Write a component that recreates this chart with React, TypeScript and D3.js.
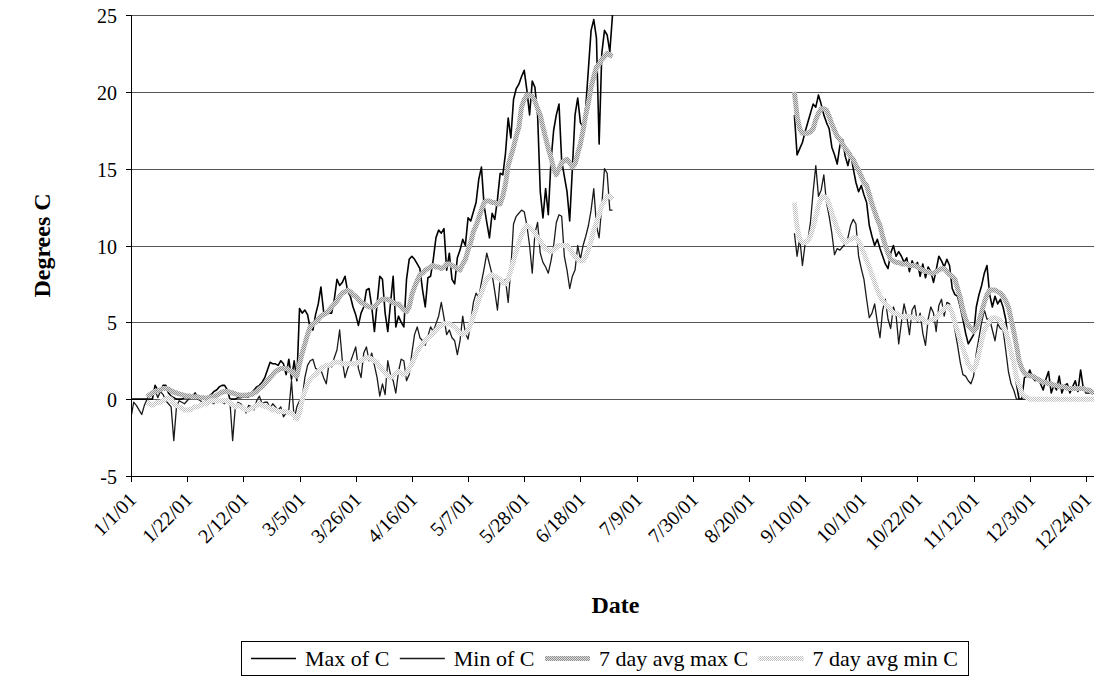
import React, { useEffect, useRef } from "react";
import * as d3 from "d3";

const parseDate = d3.utcParse("%m/%d/%y");

// axis definitions
const xTickLabels = ["1/1/01","1/22/01","2/12/01","3/5/01","3/26/01","4/16/01","5/7/01","5/28/01","6/18/01","7/9/01","7/30/01","8/20/01","9/10/01","10/1/01","10/22/01","11/12/01","12/3/01","12/24/01"];
const xDomain = ["1/1/01", "12/27/01"];
const yTicks = [-5, 0, 5, 10, 15, 20, 25];
const yDomain = [-5, 25];

// first day of each block of readings
const springStart = "1/1/01";
const springAvgStart = "1/7/01";
const autumnStart = "9/6/01";

// daily values, 1/1/01 .. 6/30/01
const maxOfC_spring = [
  0,0,0,0,0,0,0,0,0,0.9,0.6,0.5,0.9,0.9,0.4,0.2,0.1,0,0,0,0.1,0.1,0.1,0.2,0.4,0,0.1,0.1,0.05,0.2,
  0.3,0.5,0.6,0.8,0.9,0.9,0.6,0,0,0,0.1,0.1,0.15,0.15,0.15,0.4,0.6,0.8,0.9,1.1,
  1.4,1.9,2.4,2.3,2.3,2.2,2.5,2.3,1.6,2.6,1.3,2.5,1.2,5.9,5.6,5.8,5.5,4.6,4.5,5.5,
  6.2,7.3,5.7,5.5,5.6,5.6,6.5,7.8,7.4,7.6,8.0,7.0,6.7,6.0,5.5,4.8,5.6,6.0,7.1,7.2,
  6.0,4.4,6.2,8.0,7.8,5.6,4.4,6.2,8.0,4.7,5.4,5.0,4.7,7.8,9.1,9.3,9.1,8.8,8.5,7.1,
  6.0,7.9,8.0,9.1,10.5,11.0,10.8,11.1,8.4,9.5,7.8,7.5,9.2,9.7,10.4,10.0,11.8,11.6,12.2,12.8,
  14.3,15.1,12.6,11.5,10.5,12.1,11.7,13.0,14.7,14.6,16.0,18.3,17.0,19.5,20.2,20.5,21.0,21.4,20.1,18.5,
  20.7,20.3,18.5,13.5,11.8,13.7,12.0,15.5,17.5,18.5,19.2,15.5,14.5,13.5,11.6,15.0,18.5,19.6,18.0,17.7,
  19.0,21.5,24.0,24.7,23.5,16.6,22.5,24.0,23.7,22.6,25.0
];
const minOfC_spring = [
  -1.2,-0.2,-0.4,-0.7,-1.0,-0.4,0.0,0.4,0.2,0.6,0.1,0.5,0.3,-0.1,-0.3,-0.5,-2.7,-0.5,-0.1,-0.2,-0.3,-0.1,0.1,0.1,0.4,0.0,-0.1,-0.3,-0.2,0.0,
  -0.2,-0.3,0.0,-0.1,-0.2,-0.3,0.0,-0.2,-2.7,-0.5,-0.2,-0.3,-0.5,-0.9,-0.4,-0.5,-0.7,-0.1,0.2,-0.3,
  -0.2,-0.2,-0.6,-0.3,-0.5,-0.7,-0.5,-1.15,-0.9,-0.7,1.2,-1.3,-0.5,-0.1,0.1,1.4,2.2,2.5,2.6,2.0,
  1.9,1.9,1.4,1.0,2.3,2.1,2.7,3.2,4.5,2.5,1.4,2.0,2.4,2.9,3.4,2.0,1.4,3.0,3.4,2.5,
  3.0,2.2,1.4,0.2,1.0,0.3,2.5,1.6,1.2,0.4,1.8,2.6,2.5,1.2,1.6,3.0,4.2,4.7,4.0,3.8,
  3.5,4.1,4.7,4.4,4.9,5.4,6.3,5.3,4.2,4.5,4.0,3.8,2.9,3.8,5.4,4.3,3.9,5.0,6.3,6.9,
  6.6,7.6,8.5,9.5,8.8,8.1,7.0,5.8,7.8,7.5,7.8,6.3,8.5,11.4,11.9,12.1,12.3,12.2,11.3,10.0,
  8.2,10.8,11.5,9.5,8.9,8.6,8.2,9.0,10.0,11.5,12.0,11.9,9.3,8.4,7.2,8.0,8.4,10.0,9.1,10.0,
  10.6,11.3,12.3,13.7,11.3,10.5,12.6,15.0,14.7,12.3,12.3
];
// daily values, 1/7/01 .. 6/30/01
const avgMax_spring = [
  0.15,0.3,0.4,0.5,0.55,0.6,0.7,0.7,0.65,0.55,0.45,0.4,0.35,0.3,0.25,0.2,0.2,0.15,0.15,0.15,0.1,0.1,0.05,0.1,
  0.15,0.2,0.25,0.35,0.45,0.5,0.5,0.45,0.4,0.35,0.3,0.25,0.25,0.25,0.3,0.3,0.4,0.5,0.7,0.8,
  1.0,1.2,1.4,1.6,1.8,1.9,2.0,2.0,2.0,1.9,1.8,1.6,1.5,2.3,3.0,3.6,4.2,4.7,4.9,5.0,
  5.2,5.4,5.5,5.6,5.8,6.0,6.2,6.4,6.7,6.9,7.0,7.1,7.0,6.8,6.7,6.5,6.3,6.2,6.1,6.0,
  6.0,6.0,6.2,6.4,6.5,6.5,6.5,6.4,6.3,6.2,6.2,6.0,5.8,5.7,6.0,6.8,7.3,7.7,8.1,8.2,
  8.4,8.5,8.6,8.7,8.6,8.6,8.5,8.6,8.8,8.8,8.7,8.6,8.5,8.4,8.8,9.1,9.7,10.2,10.9,11.3,
  11.8,12.3,12.8,12.9,12.9,12.8,12.8,12.7,12.7,13.2,14.0,15.2,15.8,16.4,17.1,17.7,19.0,19.5,19.8,19.8,
  19.7,19.4,18.9,18.5,17.7,17.0,16.3,15.7,15.0,14.6,15.0,15.4,15.5,15.6,15.4,15.1,15.3,16.0,16.6,17.5,
  18.5,19.3,20.3,21.0,21.6,21.8,22.1,22.3,22.5,22.4,22.3
];
const avgMin_spring = [
  -0.2,-0.3,-0.4,-0.3,-0.2,-0.2,-0.1,0.0,0.1,0.0,-0.3,-0.4,-0.5,-0.6,-0.7,-0.7,-0.7,-0.6,-0.5,-0.5,-0.4,-0.3,-0.3,-0.2,
  -0.1,-0.1,-0.1,-0.1,-0.1,-0.1,-0.1,-0.2,-0.4,-0.5,-0.4,-0.5,-0.6,-0.7,-0.7,-0.6,-0.5,-0.4,-0.3,-0.4,
  -0.5,-0.5,-0.6,-0.7,-0.7,-0.8,-0.8,-0.8,-0.8,-0.9,-0.9,-1.1,-1.3,-0.9,0.0,0.5,1.0,1.3,1.5,1.6,
  1.8,2.0,2.1,2.2,2.2,2.3,2.4,2.4,2.4,2.3,2.3,2.3,2.3,2.3,2.3,2.4,2.5,2.6,2.7,2.7,
  2.6,2.5,2.4,2.1,1.9,1.7,1.5,1.4,1.5,1.7,1.8,1.7,1.6,1.7,2.0,2.3,2.7,3.1,3.4,3.6,
  3.8,4.0,4.1,4.3,4.5,4.7,4.8,4.9,4.9,4.9,4.8,4.7,4.5,4.3,4.2,4.3,4.5,4.9,5.4,5.9,
  6.5,6.9,7.4,7.8,8.0,8.1,8.0,7.9,7.8,7.6,7.5,7.8,8.4,9.0,9.6,10.2,10.7,11.1,11.3,11.2,
  11.0,10.8,10.5,10.3,10.0,9.8,9.7,9.6,9.7,9.9,10.0,10.0,10.0,10.0,9.8,9.5,9.3,9.1,9.0,9.0,
  9.3,9.7,10.3,11.0,11.5,12.0,12.6,12.9,13.2,13.2,13.0
];
// daily values, 9/6/01 .. 12/27/01
const maxOfC_autumn = [
  18.5,15.9,16.3,16.7,17.4,18.0,18.6,19.2,19.0,19.8,19.2,18.5,18.0,17.6,16.4,15.9,15.3,16.5,16.9,15.8,
  15.2,16.0,15.0,14.1,13.5,13.9,13.3,12.8,11.3,10.6,10.0,10.4,9.8,9.3,8.8,8.5,9.5,10.0,9.3,9.6,
  9.3,8.9,9.2,8.3,9.0,8.6,8.9,8.0,8.8,7.9,8.6,8.3,7.6,8.4,9.3,9.0,8.6,9.1,8.7,7.2,
  6.8,6.7,6.0,5.2,4.3,3.6,3.9,4.2,6.0,6.8,7.4,8.2,8.7,6.8,6.0,6.7,6.2,6.5,6.0,5.2,
  3.8,2.7,2.2,1.0,0,0,1.4,1.5,1.9,1.4,1.2,1.4,1.0,0.6,1.3,1.8,0.4,0.9,0.6,1.5,
  0.4,0.9,1.0,0.4,0.8,1.2,0.5,1.9,0.7,0.4,0.4,0.4,0.4
];
const minOfC_autumn = [
  10.8,9.3,10.5,8.7,10.1,10.3,11.5,13.5,15.2,13.2,13.6,14.6,12.8,11.9,10.8,9.4,9.8,9.7,9.9,10.1,
  10.5,11.3,11.7,11.4,9.3,8.5,7.8,6.5,5.3,5.6,6.2,5.0,4.0,5.8,6.5,5.2,4.6,6.0,5.5,3.6,
  5.0,6.2,5.4,4.2,5.8,6.1,5.0,5.6,4.3,3.5,5.2,6.0,5.6,4.4,6.1,6.5,5.4,6.3,6.2,5.5,
  4.5,3.5,2.4,1.6,1.5,1.2,1.0,1.5,3.0,4.0,5.0,5.8,5.2,5.2,4.5,3.8,4.9,4.6,4.5,3.2,
  1.8,1.0,0.6,0,0,0,0,0,0,0,0,0,0,0,0,0,0,0,0,0,
  0,0,0,0,0,0,0,0,0,0,0,0,0
];
const avgMax_autumn = [
  20.0,18.4,17.6,17.3,17.3,17.3,17.4,17.6,18.2,18.6,18.9,18.9,18.8,18.4,17.9,17.5,17.1,16.9,16.6,16.3,
  16.1,15.8,15.6,15.2,14.9,14.5,14.1,13.9,13.3,12.7,12.2,11.7,11.3,10.6,10.0,9.5,9.1,9.0,8.9,8.9,
  8.8,8.8,8.8,8.7,8.7,8.7,8.6,8.5,8.4,8.3,8.3,8.2,8.2,8.3,8.4,8.5,8.5,8.3,8.1,8.0,
  7.8,7.2,6.6,5.8,5.2,4.8,4.6,4.4,4.6,5.1,5.7,6.3,6.8,7.1,7.1,7.1,7.0,6.9,6.7,6.4,
  6.0,5.2,4.4,3.5,2.5,2.0,1.7,1.6,1.5,1.5,1.4,1.3,1.2,1.1,1.1,1.0,1.0,0.9,0.9,0.8,
  0.8,0.8,0.7,0.7,0.7,0.7,0.7,0.7,0.7,0.6,0.6,0.5,0.4
];
const avgMin_autumn = [
  12.8,11.2,10.4,10.2,10.2,10.3,10.6,11.2,11.9,12.6,13.1,13.2,13.1,12.7,12.1,11.6,11.1,10.7,10.4,10.2,
  10.3,10.4,10.5,10.5,10.3,9.9,9.5,9.0,8.6,8.1,7.6,7.1,6.7,6.4,6.2,6.0,5.8,5.6,5.6,5.5,
  5.4,5.3,5.4,5.4,5.3,5.3,5.2,5.3,5.2,5.0,5.0,5.1,5.2,5.3,5.5,5.7,5.9,6.0,6.0,5.6,
  5.0,4.4,3.8,3.3,2.8,2.3,2.0,1.9,2.3,3.0,3.8,4.5,4.8,5.1,5.3,5.3,5.2,5.1,4.8,4.4,
  3.8,3.1,2.4,1.4,0.9,0.4,0.2,0.1,0,0,0,0,0,0,0,0,0,0,0,0,
  0,0,0,0,0,0,0,0,0,0,0,0,0
];

const seriesNames = ["Max of C", "Min of C", "7 day avg max C", "7 day avg min C"];
const yTitle = "Degrees C";
const xTitle = "Date";

const FONT = "Liberation Serif";

export default function App() {
  const ref = useRef<SVGSVGElement>(null);

  useEffect(() => {
    const W = 1101, H = 677;
    const L = 131, R = 1094, T = 15, B = 476;
    const svg = d3.select(ref.current);
    svg.selectAll("*").remove();
    svg.attr("width", W).attr("height", H);
    const txt = (g: any) => g.append("text").attr("font-family", FONT).attr("fill", "#000");

    const x = d3.scaleUtc().domain(xDomain.map((s) => parseDate(s) as Date)).range([L, R]);
    const y = d3.scaleLinear().domain(yDomain).range([B, T]);

    const defs = svg.append("defs");
    const mkPattern = (id: string, bg: string, fg: string) => {
      const p = defs.append("pattern").attr("id", id).attr("patternUnits", "userSpaceOnUse").attr("width", 2).attr("height", 2);
      p.append("rect").attr("width", 2).attr("height", 2).attr("fill", bg);
      p.append("rect").attr("width", 1).attr("height", 1).attr("fill", fg);
      p.append("rect").attr("x", 1).attr("y", 1).attr("width", 1).attr("height", 1).attr("fill", fg);
    };
    mkPattern("pAvgMax", "#dcdcdc", "#909090");
    mkPattern("pAvgMin", "#ffffff", "#c0c0c0");
    defs.append("clipPath").attr("id", "plotClip").append("rect").attr("x", L).attr("y", T - 1).attr("width", R - L).attr("height", B - T + 2);

    // gridlines
    const grid = svg.append("g").attr("shape-rendering", "crispEdges");
    yTicks.filter((v) => v > yDomain[0]).forEach((v) => {
      grid.append("line").attr("x1", L).attr("x2", R).attr("y1", Math.round(y(v)) + 0.5).attr("y2", Math.round(y(v)) + 0.5)
        .attr("stroke", "#555").attr("stroke-width", 1);
    });

    // series
    const styles = [
      { stroke: "#000", width: 1.6 },
      { stroke: "#1a1a1a", width: 1.3 },
      { stroke: "url(#pAvgMax)", width: 5 },
      { stroke: "url(#pAvgMin)", width: 5 },
    ];
    const parts: [string, number[]][][] = [
      [[springStart, maxOfC_spring], [autumnStart, maxOfC_autumn]],
      [[springStart, minOfC_spring], [autumnStart, minOfC_autumn]],
      [[springAvgStart, avgMax_spring], [autumnStart, avgMax_autumn]],
      [[springAvgStart, avgMin_spring], [autumnStart, avgMin_autumn]],
    ];
    const line = d3.line<[Date, number]>().x((d) => x(d[0])).y((d) => y(d[1]));
    const plot = svg.append("g").attr("clip-path", "url(#plotClip)");
    parts.forEach((seriesParts, si) => {
      seriesParts.forEach(([start, vals]) => {
        const s0 = parseDate(start) as Date;
        const pts: [Date, number][] = vals.map((v, i) => [d3.utcDay.offset(s0, i), v]);
        plot.append("path").attr("d", line(pts) as string).attr("fill", "none")
          .attr("stroke", styles[si].stroke).attr("stroke-width", styles[si].width)
          .attr("stroke-linejoin", "round").attr("stroke-linecap", "butt");
      });
    });

    // axes
    const ax = svg.append("g").attr("shape-rendering", "crispEdges");
    ax.append("line").attr("x1", L + 0.5).attr("x2", L + 0.5).attr("y1", T).attr("y2", B + 1).attr("stroke", "#000");
    ax.append("line").attr("x1", L).attr("x2", R).attr("y1", B + 0.5).attr("y2", B + 0.5).attr("stroke", "#000");
    yTicks.forEach((v) => {
      const yy = Math.round(y(v)) + 0.5;
      ax.append("line").attr("x1", L - 5).attr("x2", L).attr("y1", yy).attr("y2", yy).attr("stroke", "#000");
      txt(svg).attr("x", L - 14).attr("y", yy).attr("dy", "0.35em").attr("text-anchor", "end")
        .attr("font-size", 20).text(String(v));
    });
    xTickLabels.forEach((lab) => {
      const xx = Math.round(x(parseDate(lab) as Date)) + 0.5;
      ax.append("line").attr("x1", xx).attr("x2", xx).attr("y1", B).attr("y2", B + 6).attr("stroke", "#000");
      txt(svg).attr("text-anchor", "end").attr("font-size", 20)
        .attr("transform", `translate(${xx + 6},${B + 25}) rotate(-45)`).text(lab);
    });

    // titles
    txt(svg).attr("transform", `translate(50,${(T + B) / 2}) rotate(-90)`).attr("text-anchor", "middle")
      .attr("font-weight", "bold").attr("font-size", 24).text(yTitle);
    txt(svg).attr("x", (L + R) / 2 + 3).attr("y", 613).attr("text-anchor", "middle")
      .attr("font-weight", "bold").attr("font-size", 24).text(xTitle);

    // legend
    const boxL = 241, boxR = 968, boxT = 641, boxB = 675;
    const legY = (boxT + boxB) / 2;
    const sampleW = 45, stGap = 9, pad = 10;
    const lg = svg.append("g");
    lg.append("rect").attr("x", boxL + 0.5).attr("y", boxT + 0.5).attr("width", boxR - boxL).attr("height", boxB - boxT)
      .attr("fill", "#fff").attr("stroke", "#000").attr("shape-rendering", "crispEdges");
    const texts = seriesNames.map((name) => txt(lg).attr("font-size", 22).attr("y", legY).attr("dy", "0.35em").text(name));
    const widths = texts.map((t: any) => (t.node() as SVGTextElement).getComputedTextLength());
    const inner = widths.reduce((a: number, w: number) => a + w + sampleW + stGap, 0);
    const gap = Math.max(4, (boxR - boxL - 2 * pad - inner) / (seriesNames.length - 1));
    let cur = boxL + pad;
    seriesNames.forEach((_, i) => {
      lg.append("line").attr("x1", cur).attr("x2", cur + sampleW).attr("y1", legY + 0.5).attr("y2", legY + 0.5)
        .attr("stroke", styles[i].stroke).attr("stroke-width", i < 2 ? styles[i].width : 5);
      texts[i].attr("x", cur + sampleW + stGap);
      cur += sampleW + stGap + widths[i] + gap;
    });
  }, []);

  return (
    <div style={{ position: "absolute", left: 0, top: 0 }}>
      <svg ref={ref} width={1101} height={677} />
    </div>
  );
}
